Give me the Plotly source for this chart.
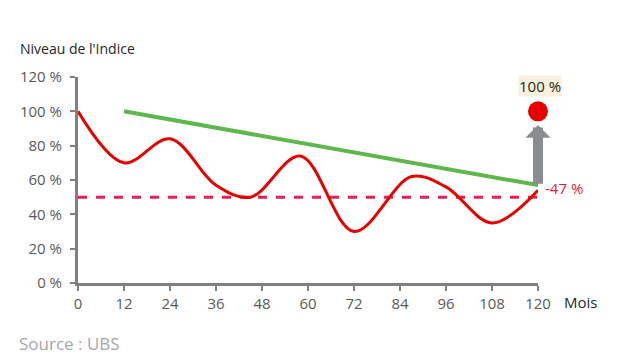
import plotly.graph_objects as go

# Data
months = [0, 12, 24, 36, 45, 58, 72, 87, 96, 108, 120]
index_level = [100, 70, 84, 57, 50, 74, 30, 62, 56, 35, 54]
barrier_months = [0, 120]
barrier_level = [50, 50]
coupon_months = [12, 120]
coupon_level = [100, 57]
final_month = [120]
final_value = [100]
final_label = "100 %"
loss_label = "-47 %"
arrow_tip = 92
x_ticks = list(range(0, 121, 12))
y_ticks = list(range(0, 121, 20))
y_tick_text = [f"{v} %" for v in y_ticks]

FONT = "Open Sans"
AXIS_COL = "#7f7f7f"
TICK_COL = "#595959"
OFF = 8  # page body margin

fig = go.Figure()
fig.add_trace(go.Scatter(x=barrier_months, y=barrier_level, mode="lines",
                         line=dict(color="#ee1c55", width=3, dash="dash"),
                         hoverinfo="skip"))
fig.add_trace(go.Scatter(x=coupon_months, y=coupon_level, mode="lines",
                         line=dict(color="#5cb84a", width=4), hoverinfo="skip"))
fig.add_trace(go.Scatter(x=months, y=index_level, mode="lines",
                         line=dict(color="#e60000", width=3, shape="spline", smoothing=1.0),
                         hoverinfo="skip"))
fig.add_trace(go.Scatter(x=final_month, y=final_value, mode="markers",
                         marker=dict(color="#e60000", size=20), cliponaxis=False,
                         hoverinfo="skip"))

fig.add_annotation(x=final_month[0], y=arrow_tip, ax=final_month[0], ay=coupon_level[-1],
                   xref="x", yref="y", axref="x", ayref="y", text="",
                   showarrow=True, arrowhead=1, arrowwidth=10, arrowsize=0.42,
                   arrowcolor="#898c90", standoff=0, startstandoff=0)
fig.add_annotation(x=final_month[0], y=final_value[0], xref="x", yref="y",
                   text=final_label, showarrow=False, yshift=25, xshift=2,
                   bgcolor="#f8f0dc", borderpad=0,
                   font=dict(family=FONT, size=15, color="#262626"))
fig.add_annotation(x=final_month[0], y=index_level[-1], xref="x", yref="y",
                   text=loss_label, showarrow=False, xanchor="left", xshift=5, yshift=2,
                   font=dict(family=FONT, size=15, color="#e8173f"))

W, H = 608, 350
L, T = 78 - OFF, 77 - OFF
R = W - (538 - OFF)
B = H - (283 - OFF)
pw, ph = W - L - R, H - T - B


def px(x, y):
    return (x - OFF - L) / pw, 1 - (y - OFF - T) / ph


for txt, x, y, size, col in [
    ("Niveau de l'Indice", 18, 48, 14, "#262626"),
    ("Mois", 562, 302, 15, "#262626"),
    ("Source : UBS", 17, 343, 17, "#a6a6a6"),
]:
    fx, fy = px(x, y)
    fig.add_annotation(x=fx, y=fy, xref="paper", yref="paper", text=txt,
                       showarrow=False, xanchor="left", yanchor="middle",
                       font=dict(family=FONT, size=size, color=col))

fig.update_layout(
    width=W, height=H, margin=dict(l=L, r=R, t=T, b=B),
    paper_bgcolor="white", plot_bgcolor="white", showlegend=False,
    font=dict(family=FONT, size=15, color=TICK_COL),
    xaxis=dict(range=[0, 120], tickvals=x_ticks, showgrid=False, zeroline=False,
               showline=True, linecolor=AXIS_COL, linewidth=3,
               ticks="outside", ticklen=5, tickwidth=2, tickcolor=AXIS_COL,
               tickfont=dict(family=FONT, size=15, color=TICK_COL)),
    yaxis=dict(range=[0, 120], tickvals=y_ticks, ticktext=y_tick_text, showgrid=False,
               zeroline=False, showline=True, linecolor=AXIS_COL, linewidth=3,
               ticks="outside", ticklen=5, tickwidth=2, tickcolor=AXIS_COL,
               ticklabelstandoff=5,
               tickfont=dict(family=FONT, size=15, color=TICK_COL)),
)

fig.write_html("out.html")
